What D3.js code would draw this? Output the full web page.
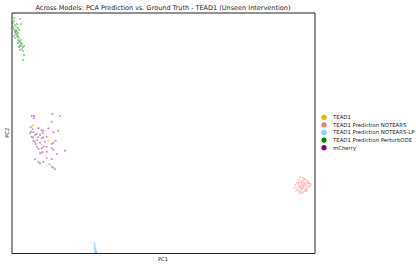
<!DOCTYPE html>
<html><head><meta charset="utf-8">
<script src="https://cdn.jsdelivr.net/npm/d3@7"></script>
<style>body{margin:0;background:#fff}svg{display:block}text{font-family:"DejaVu Sans",sans-serif;fill:#222}</style>
</head><body>
<script>
const title = "Across Models: PCA Prediction vs. Ground Truth - TEAD1 (Unseen Intervention)";
const xLabel = "PC1", yLabel = "PC2";
const seriesNames = ["TEAD1","TEAD1 Prediction NOTEARS","TEAD1 Prediction NOTEARS-LP","TEAD1 Prediction PerturbODE","mCherry"];
const seriesColors = ["#ffa500","#f08080","#87cefa","#008000","#800080"];
const xDomain = [-8.15, 22.15];
const yDomain = [-9.05, 15.0];

const perturbODE = [[-7.3,14.35],[-8.0,13.95],[-7.8,13.75],[-7.6,13.85],[-7.2,13.85],[-7.9,14.15],[-7.7,13.55],[-8.0,13.55],[-7.9,13.35],[-7.8,13.15],[-7.7,13.05],[-7.6,13.15],[-7.8,12.95],[-7.6,12.85],[-7.5,12.95],[-7.7,12.75],[-7.5,12.65],[-7.6,12.55],[-7.4,12.45],[-7.5,12.25],[-7.4,12.15],[-7.3,12.05],[-7.5,11.95],[-7.2,11.95],[-7.3,11.75],[-7.1,11.85],[-7.2,11.65],[-7.4,11.55],[-7.0,11.55],[-7.1,11.35],[-7.3,11.25],[-7.0,11.15],[-6.9,10.75],[-7.0,10.25],[-7.9,12.65],[-7.7,13.25],[-7.4,13.25],[-7.8,12.45],[-7.2,12.25],[-6.9,11.65],[-7.9,14.45],[-7.5,13.45]];
const mCherry = [[-6.13,4.65],[-5.9,4.65],[-5.9,4.42],[-4.07,4.85],[-3.3,4.65],[-4.13,4.08],[-6.23,3.52],[-6.03,3.32],[-6.2,3.08],[-5.97,3.02],[-5.47,3.42],[-5.13,3.25],[-4.97,3.18],[-4.47,3.42],[-3.97,3.02],[-3.47,3.18],[-5.63,2.85],[-5.8,2.75],[-5.3,2.75],[-6.13,2.58],[-5.97,2.52],[-5.47,2.52],[-5.13,2.42],[-4.97,2.52],[-4.63,2.58],[-5.97,2.18],[-5.8,2.08],[-5.57,2.25],[-3.97,1.98],[-4.13,1.85],[-3.73,2.18],[-5.63,1.58],[-5.47,1.38],[-5.13,1.42],[-4.9,1.58],[-4.63,1.58],[-4.13,1.42],[-3.97,1.25],[-5.3,0.92],[-5.03,1.02],[-4.63,1.08],[-3.63,0.85],[-2.8,1.18],[-5.8,0.32],[-5.47,0.08],[-4.97,0.05],[-4.63,0.42],[-4.13,0.32],[-5.3,-0.08],[-4.37,-0.18],[-4.13,-0.42],[-3.8,-0.68],[-3.97,-0.52],[-5.7,1.85],[-5.3,1.98],[-6.3,2.92],[-4.8,2.08],[-5.03,2.92]];
const tead1 = [[-6.07,3.65],[-5.4,3.42],[-5.13,1.02],[-5.2,0.92],[-4.47,2.18],[-5.13,1.75],[-5.97,3.75]];
const notears = [[20.7,-1.48],[20.97,-1.58],[21.2,-1.68],[20.53,-1.75],[20.77,-1.82],[21.03,-1.85],[21.37,-1.82],[21.53,-1.92],[20.37,-2.02],[20.63,-2.02],[20.87,-2.08],[21.1,-2.02],[21.3,-2.08],[21.63,-2.08],[20.2,-2.25],[20.53,-2.25],[20.77,-2.28],[20.97,-2.25],[21.2,-2.32],[21.43,-2.28],[21.7,-2.35],[20.3,-2.48],[20.6,-2.48],[20.83,-2.52],[21.03,-2.48],[21.3,-2.55],[21.53,-2.48],[20.43,-2.68],[20.7,-2.72],[20.93,-2.68],[21.17,-2.75],[21.37,-2.68],[20.57,-2.88],[20.8,-2.92],[21.03,-2.95],[21.23,-2.88],[20.3,-2.82],[20.9,-3.08],[20.63,-3.08],[21.1,-1.68],[20.83,-1.95],[20.7,-2.42],[21.13,-2.18],[20.9,-2.62],[21.5,-2.08],[21.77,-2.15],[20.1,-2.58],[20.5,-2.08],[21.03,-2.35],[21.37,-2.82]];
const notearsLP = [[0.13,-8.02],[0.17,-8.15],[0.13,-8.28],[0.2,-8.35],[0.17,-8.48],[0.23,-8.55],[0.2,-8.65],[0.27,-8.68],[0.17,-8.75],[0.23,-8.82],[0.3,-8.85],[0.2,-8.92],[0.27,-8.95],[0.33,-8.98],[0.23,-9.02],[0.3,-9.05],[0.37,-8.95],[0.13,-8.58]];

const W = 416, H = 264;
const plot = {l: 11.5, t: 12.5, r: 314.5, b: 253};
const svg = d3.select("body").append("svg").attr("width", W).attr("height", H);
const x = d3.scaleLinear().domain(xDomain).range([plot.l, plot.r]);
const y = d3.scaleLinear().domain(yDomain).range([plot.b, plot.t]);

const layers = [
  {data: tead1, color: seriesColors[0]},
  {data: notears, color: seriesColors[1]},
  {data: notearsLP, color: seriesColors[2]},
  {data: perturbODE, color: seriesColors[3]},
  {data: mCherry, color: seriesColors[4]}
];
layers.forEach(L => {
  svg.append("g").selectAll("circle").data(L.data).join("circle")
    .attr("cx", d => x(d[0])).attr("cy", d => y(d[1])).attr("r", 1.0)
    .attr("fill", L.color).attr("fill-opacity", 0.45);
});

const ax = [
  d3.axisBottom(x).tickValues([]).tickSizeOuter(0),
  d3.axisTop(x).tickValues([]).tickSizeOuter(0),
  d3.axisLeft(y).tickValues([]).tickSizeOuter(0),
  d3.axisRight(y).tickValues([]).tickSizeOuter(0)
];
svg.append("g").attr("transform", `translate(0,${plot.b})`).call(ax[0]);
svg.append("g").attr("transform", `translate(0,${plot.t})`).call(ax[1]);
svg.append("g").attr("transform", `translate(${plot.l},0)`).call(ax[2]);
svg.append("g").attr("transform", `translate(${plot.r},0)`).call(ax[3]);
svg.selectAll(".domain").attr("stroke", "#222").attr("stroke-width", 1);

svg.append("text").attr("x", (plot.l + plot.r) / 2).attr("y", 9.5).attr("text-anchor", "middle")
  .attr("font-size", 6.5).text(title);
svg.append("text").attr("x", (plot.l + plot.r) / 2).attr("y", 260.5).attr("text-anchor", "middle")
  .attr("font-size", 5.2).text(xLabel);
svg.append("text").attr("transform", `translate(8.5,${(plot.t + plot.b) / 2}) rotate(-90)`)
  .attr("text-anchor", "middle").attr("font-size", 5.2).text(yLabel);

const leg = svg.append("g");
const legY = d3.scalePoint().domain(seriesNames).range([117.3, 147.7]);
seriesNames.forEach((n, i) => {
  leg.append("circle").attr("cx", 324).attr("cy", legY(n)).attr("r", 2.6).attr("fill", seriesColors[i]);
  leg.append("text").attr("x", 333).attr("y", legY(n)).attr("dy", "0.35em").attr("font-size", 5.35).text(n);
});
</script>
</body></html>
